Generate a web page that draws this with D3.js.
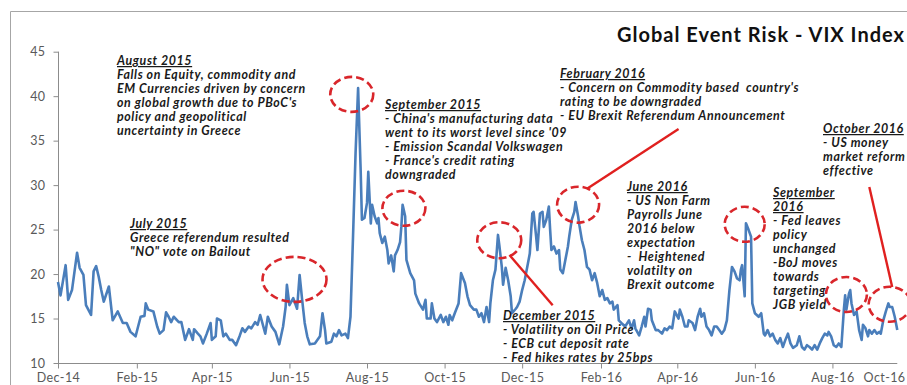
<!DOCTYPE html>
<html>
<head>
<meta charset="utf-8">
<script src="https://cdn.jsdelivr.net/npm/d3@7"></script>
<style>
  html, body { margin: 0; padding: 0; background: #fff; }
  svg { display: block; }
  .ann { font-family: Lato, "Open Sans", sans-serif; font-weight: 700; font-style: italic; font-size: 12.4px; letter-spacing: 0.6px; fill: #1a1a1a; }
  .axis text { font-family: Lato, "Open Sans", sans-serif; font-size: 12.5px; letter-spacing: 0.4px; fill: #595959; }
  .axis line, .axis path { stroke: #8c8c8c; }
</style>
</head>
<body>
<script>
// VIX closes, Dec 2014 - Sep 2016 (day offsets counted from 1 Dec 2014)
const startDate = new Date(2014, 11, 1);
const dayOffsets = [
  0, 2, 6, 8, 11, 15, 17, 20, 22, 26, 28, 30, 32, 34, 36, 40, 43, 47, 51, 54,
  57, 61, 63, 65, 68, 69, 71, 75, 78, 80, 83, 85, 87, 89, 91, 95, 97, 100, 103, 106,
  107, 110, 112, 114, 117, 120, 121, 124, 125, 128, 130, 132, 135, 137, 140, 143, 145, 147, 150, 152,
  155, 157, 159, 163, 165, 168, 171, 174, 177, 179, 180, 182, 185, 188, 190, 192, 194, 196, 198, 202,
  206, 208, 210, 211, 215, 217, 219, 221, 223, 226, 228, 230, 232, 234, 236, 238, 239, 241, 243, 244,
  246, 247, 249, 251, 252, 253, 255, 257, 259, 260, 262, 264, 265, 267, 269, 270, 271, 273, 274, 277,
  280, 281, 284, 287, 289, 290, 293, 294, 296, 298, 301, 303, 305, 307, 308, 310, 312, 315, 317, 320,
  322, 324, 327, 329, 331, 333, 335, 337, 339, 340, 342, 344, 346, 347, 349, 350, 352, 354, 356, 357,
  360, 361, 363, 365, 367, 369, 371, 373, 374, 376, 377, 379, 381, 382, 384, 386, 387, 388, 390, 392,
  394, 395, 397, 399, 401, 402, 404, 406, 407, 409, 410, 412, 414, 416, 418, 420, 422, 424, 426, 428,
  430, 432, 434, 436, 437, 440, 441, 443, 446, 449, 451, 453, 454, 457, 459, 461, 462, 464, 466, 467,
  470, 472, 475, 477, 479, 481, 483, 485, 488, 489, 491, 493, 495, 496, 499, 501, 503, 505, 506, 508,
  510, 512, 514, 516, 518, 520, 522, 524, 526, 528, 530, 532, 534, 536, 537, 538, 540, 541, 543, 545,
  546, 548, 551, 553, 555, 556, 558, 560, 562, 564, 566, 568, 570, 572, 574, 576, 578, 581, 583, 585,
  587, 589, 591, 593, 595, 597, 599, 601, 603, 605, 606, 608, 610, 612, 614, 616, 618, 619, 620, 622,
  623, 624, 626, 628, 630, 632, 633, 635, 637, 638, 640, 642, 644, 646, 647, 649, 651, 653, 654, 656,
  658, 660
];
const vix = [
  19.1, 17.6, 21.0, 17.1, 18.2, 22.4, 20.7, 19.9, 16.5, 15.4, 20.3, 20.9, 19.7, 18.2, 16.9, 18.6, 14.8, 15.8, 14.5, 14.5,
  13.5, 13.0, 14.1, 15.2, 15.3, 16.7, 16.0, 15.8, 14.1, 13.3, 13.7, 15.7, 15.2, 14.6, 15.2, 14.6, 14.6, 12.6, 13.8, 12.6,
  13.8, 13.3, 13.0, 12.2, 13.3, 14.5, 12.6, 13.0, 15.0, 14.8, 13.0, 13.3, 12.6, 12.6, 12.0, 13.1, 13.9, 13.5, 14.1, 13.9,
  14.6, 14.3, 15.4, 13.3, 15.2, 14.1, 13.5, 12.1, 14.1, 16.3, 18.8, 16.5, 17.3, 16.1, 19.9, 17.1, 14.5, 13.0, 12.1, 12.2,
  13.0, 15.6, 13.7, 12.2, 12.4, 13.3, 13.0, 13.7, 13.1, 13.3, 12.8, 15.2, 24.2, 33.6, 40.9, 31.7, 26.1, 26.3, 28.0, 31.5,
  25.7, 27.8, 26.5, 25.7, 26.3, 24.6, 23.5, 24.2, 22.7, 21.2, 22.1, 20.3, 22.1, 22.7, 23.6, 25.3, 27.8, 26.5, 21.6, 20.1,
  19.3, 17.8, 16.7, 16.0, 17.1, 15.0, 15.0, 16.7, 15.0, 14.6, 15.4, 14.6, 15.2, 14.3, 15.4, 14.8, 15.6, 16.7, 20.1, 19.0,
  17.5, 16.5, 16.0, 16.0, 15.2, 15.6, 14.6, 16.3, 14.6, 16.7, 19.3, 20.5, 24.4, 23.3, 20.8, 18.8, 20.7, 19.3, 17.5, 15.6,
  16.1, 16.3, 16.9, 18.2, 19.3, 20.8, 22.3, 26.8, 27.0, 24.2, 22.7, 26.8, 27.0, 25.3, 26.1, 27.6, 25.0, 22.7, 23.1, 22.3,
  22.7, 20.5, 20.1, 21.6, 23.1, 24.2, 26.1, 27.0, 28.1, 26.5, 25.5, 23.8, 22.7, 20.8, 20.5, 19.3, 20.1, 19.0, 17.5, 18.2,
  17.1, 17.3, 16.7, 16.9, 16.0, 16.5, 14.8, 14.5, 14.1, 14.8, 13.9, 14.8, 13.9, 13.1, 14.1, 15.2, 14.1, 16.1, 16.0, 14.8,
  13.7, 13.7, 13.3, 13.9, 13.7, 14.1, 13.9, 15.8, 15.0, 16.0, 15.2, 14.1, 14.1, 14.8, 14.5, 13.7, 15.2, 16.1, 15.2, 15.6,
  14.1, 13.7, 13.1, 14.1, 14.1, 13.7, 13.3, 13.7, 14.8, 18.2, 20.8, 20.3, 19.5, 19.3, 20.5, 21.0, 17.5, 25.7, 25.0, 24.2,
  16.7, 15.6, 15.2, 15.6, 13.3, 13.1, 13.7, 13.0, 13.3, 12.6, 12.2, 12.8, 11.8, 12.6, 13.3, 12.2, 11.7, 12.0, 13.0, 11.8,
  11.5, 12.0, 11.8, 11.5, 12.0, 11.5, 12.2, 12.8, 13.3, 13.1, 13.5, 13.0, 12.0, 11.8, 12.2, 11.8, 16.0, 17.6, 16.0, 17.8,
  18.2, 16.7, 15.4, 15.8, 13.7, 12.6, 14.3, 13.9, 13.0, 13.7, 13.3, 13.7, 13.3, 13.5, 13.3, 14.8, 15.8, 16.7, 16.3, 16.3,
  15.2, 13.7
];
const yTicks = [10, 15, 20, 25, 30, 35, 40, 45];
const xTickLabels = ["Dec-14", "Feb-15", "Apr-15", "Jun-15", "Aug-15", "Oct-15",
                     "Dec-15", "Feb-16", "Apr-16", "Jun-16", "Aug-16", "Oct-16"];
const titleText = "Global Event Risk - VIX Index";

// Highlighted episodes: centre (day offset, VIX level)
const highlightDays   = [186, 231, 272, 347, 409, 540, 620, 654];
const highlightLevels = [19.4, 40.2, 27.4, 23.8, 27.8, 25.6, 17.7, 16.6];
const highlightRx     = [32, 21.5, 21.5, 22, 21, 20, 20.5, 21];
const highlightRy     = [22.5, 17.5, 17.5, 18, 18, 17.5, 17.5, 17.5];

// Leader lines from a note to its episode: [day, level] -> [day, level]
const leaders = [
  [[355.6, 22.15], [389.5, 16.5]],
  [[416.2, 29.6], [488.6, 36.3]],
  [[638.1, 29.8], [656.2, 18.55]]
];

// Event notes: leading lines are the underlined heading(s)
const notes = [
  { x: 117, y: 65, heads: 1, lines: ["August 2015", "Falls on Equity, commodity and", "EM Currencies driven by concern",
      "on global growth due to PBoC's", "policy and geopolitical", "uncertainty in Greece"] },
  { x: 385, y: 109, heads: 1, lines: ["September 2015", "- China's manufacturing data", "went to its worst level since '09",
      "- Emission Scandal Volkswagen", "- France's credit rating", "downgraded"] },
  { x: 560, y: 78, heads: 1, lines: ["February 2016", "- Concern on Commodity based  country's", "rating to be downgraded",
      "- EU Brexit Referendum Announcement"] },
  { x: 823, y: 133, heads: 1, lines: ["October 2016", "- US money", "market reform", "effective"] },
  { x: 627, y: 191, heads: 1, lines: ["June 2016", "- US Non Farm", "Payrolls June", "2016 below", "expectation",
      "-  Heightened", "volatilty on", "Brexit outcome"] },
  { x: 773, y: 197, heads: 2, lines: ["September", "2016", "- Fed leaves", "policy", "unchanged", "-BoJ moves",
      "towards", "targeting", "JGB yield"] },
  { x: 130, y: 228, heads: 1, lines: ["July 2015", "Greece referendum resulted", "\"NO\" vote on Bailout"] },
  { x: 503, y: 320, heads: 1, lines: ["December 2015", "- Volatility on Oil Price", "- ECB cut deposit rate",
      "- Fed hikes rates by 25bps"] }
];

const W = 907, H = 385;
const svg = d3.select("body").append("svg").attr("width", W).attr("height", H);

const toDate = d => d3.timeDay.offset(startDate, d);
const parseTick = d3.timeParse("%b-%y");
const tickDates = xTickLabels.map(parseTick);

const x = d3.scaleTime().domain([startDate, tickDates[tickDates.length - 1]]).range([58, 910]);
const y = d3.scaleLinear().domain([10, 45]).range([363, 51.7]);

// frame edges
svg.append("path").attr("d", `M10.5,${H} V11.5 H${W}`).attr("fill", "none").attr("stroke", "#a6a6a6").attr("stroke-width", 1);

// y axis
const gy = svg.append("g").attr("class", "axis").attr("transform", "translate(58.5,0)")
  .call(d3.axisLeft(y).tickValues(yTicks).tickSize(5).tickSizeOuter(0).tickPadding(8));
gy.select(".domain").attr("d", `M0,${y(10)}V${y(45)}`);

// x axis
const lastDate = toDate(dayOffsets[dayOffsets.length - 1]);
const gx = svg.append("g").attr("class", "axis").attr("transform", `translate(0,${y(10) + 0.5})`)
  .call(d3.axisBottom(x).tickValues(tickDates).tickFormat((d, i) => xTickLabels[i]).tickSize(5).tickSizeOuter(0).tickPadding(5));
gx.select(".domain").attr("d", `M${x(startDate)},0H${x(lastDate)}`);
// keep the last label inside the plot edge
gx.selectAll(".tick").filter(d => x(d) > W - 20).select("text")
  .attr("text-anchor", "end").attr("dx", d => (W - 2) - x(d));

// VIX line
const series = dayOffsets.map((d, i) => ({ date: toDate(d), v: vix[i] }));
svg.append("path").datum(series)
  .attr("fill", "none").attr("stroke", "#4a7ebb").attr("stroke-width", 2.6).attr("stroke-linejoin", "round")
  .attr("d", d3.line().x(d => x(d.date)).y(d => y(d.v)));

// notes
const ng = svg.append("g");
notes.forEach(n => {
  const t = ng.append("text").attr("class", "ann").attr("x", n.x).attr("y", n.y);
  n.lines.forEach((line, i) => {
    t.append("tspan").attr("x", n.x).attr("y", n.y + i * 14)
      .attr("text-decoration", i < n.heads ? "underline" : null)
      .style("white-space", "pre")
      .text(line);
  });
});

// dashed highlight ellipses
svg.append("g").selectAll("ellipse").data(highlightDays).join("ellipse")
  .attr("cx", d => x(toDate(d))).attr("cy", (d, i) => y(highlightLevels[i]))
  .attr("rx", (d, i) => highlightRx[i]).attr("ry", (d, i) => highlightRy[i])
  .attr("fill", "none").attr("stroke", "#d9262b").attr("stroke-width", 2.6).attr("stroke-dasharray", "8,4");

// leader lines
svg.append("g").selectAll("line").data(leaders).join("line")
  .attr("x1", d => x(toDate(d[0][0]))).attr("y1", d => y(d[0][1]))
  .attr("x2", d => x(toDate(d[1][0]))).attr("y2", d => y(d[1][1]))
  .attr("stroke", "#e0201f").attr("stroke-width", 2.4);

// title
svg.append("text").attr("x", 905).attr("y", 42).attr("text-anchor", "end")
  .style("font-family", "Lato, 'Open Sans', sans-serif").style("font-weight", 700).style("font-size", "20px")
  .style("letter-spacing", "1px").style("fill", "#111")
  .text(titleText);
</script>
</body>
</html>
